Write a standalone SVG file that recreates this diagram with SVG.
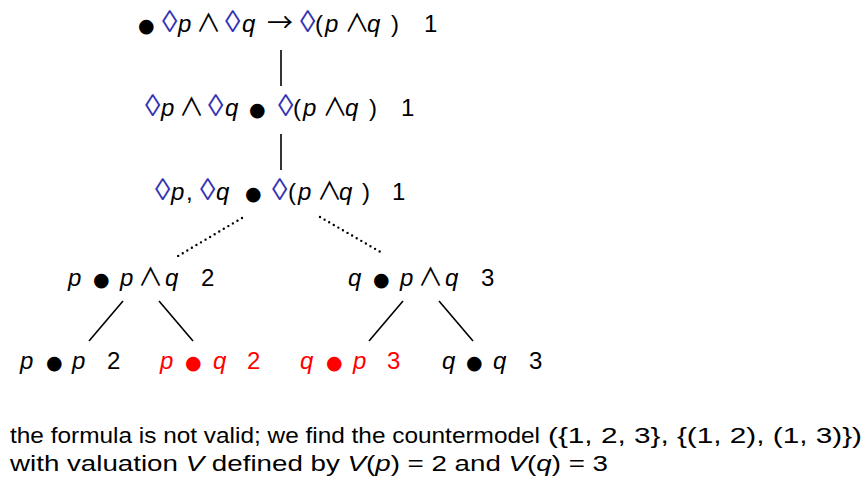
<svg xmlns="http://www.w3.org/2000/svg" width="868" height="491" viewBox="0 0 868 491">
<style>
.t{font-family:"Liberation Sans","DejaVu Sans",sans-serif;font-size:24px;fill:#000}
.i{font-style:italic}
.d{fill:#3333b3;font-size:31px}
.r{fill:#ff0000}
.b{font-family:"DejaVu Sans",sans-serif;font-size:19px}
.m{font-family:"Noto Sans CJK SC","DejaVu Sans",sans-serif;font-size:25px}
.a{font-family:"Noto Sans CJK SC","DejaVu Sans",sans-serif;font-size:26px}
.x{font-family:"Liberation Sans","DejaVu Sans",sans-serif;font-size:22px;fill:#000}
.ln{stroke:#000;stroke-width:1.6;fill:none}
.dot{stroke:#000;stroke-width:2.4;stroke-linecap:round;stroke-dasharray:0 5.3;fill:none}
</style>
<rect width="868" height="491" fill="#fff"/>
<g id="connectors">
<line class="ln" x1="281" y1="50" x2="281" y2="86"/>
<line class="ln" x1="281" y1="134" x2="281" y2="170"/>
<line class="dot" x1="242" y1="218" x2="178" y2="256"/>
<line class="dot" x1="320" y1="217" x2="384" y2="254"/>
<line class="ln" x1="123" y1="301" x2="89" y2="341"/>
<line class="ln" x1="159" y1="301" x2="193" y2="341"/>
<line class="ln" x1="403" y1="301" x2="369" y2="341"/>
<line class="ln" x1="439" y1="301" x2="473" y2="341"/>
</g>
<g id="n1"><text class="t" y="32"><tspan class="b" x="138">●</tspan><tspan class="d" x="162">◊</tspan><tspan class="i" x="178">p</tspan><tspan class="m" x="196">∧</tspan><tspan class="d" x="225">◊</tspan><tspan class="i" x="242">q</tspan><tspan class="a" x="267">→</tspan><tspan class="d" x="300">◊</tspan><tspan x="315">(</tspan><tspan class="i" x="325">p</tspan><tspan class="m" x="344.5">∧</tspan><tspan class="i" x="367">q</tspan><tspan x="391">)</tspan><tspan x="424">1</tspan></text></g>
<g id="n2"><text class="t" y="116"><tspan class="d" x="145">◊</tspan><tspan class="i" x="161">p</tspan><tspan class="m" x="179">∧</tspan><tspan class="d" x="208">◊</tspan><tspan class="i" x="225">q</tspan><tspan class="b" x="249">●</tspan><tspan class="d" x="278">◊</tspan><tspan x="293">(</tspan><tspan class="i" x="303">p</tspan><tspan class="m" x="322.5">∧</tspan><tspan class="i" x="345">q</tspan><tspan x="369">)</tspan><tspan x="401">1</tspan></text></g>
<g id="n3"><text class="t" y="200"><tspan class="d" x="155">◊</tspan><tspan class="i" x="171">p</tspan><tspan x="186">,</tspan><tspan class="d" x="200">◊</tspan><tspan class="i" x="216">q</tspan><tspan class="b" x="245">●</tspan><tspan class="d" x="272">◊</tspan><tspan x="288">(</tspan><tspan class="i" x="298">p</tspan><tspan class="m" x="317">∧</tspan><tspan class="i" x="339">q</tspan><tspan x="362">)</tspan><tspan x="392">1</tspan></text></g>
<g id="n4"><text class="t" y="286"><tspan class="i" x="68">p</tspan><tspan class="b" x="93">●</tspan><tspan class="i" x="120">p</tspan><tspan class="m" x="138">∧</tspan><tspan class="i" x="165">q</tspan><tspan x="201">2</tspan></text></g>
<g id="n5"><text class="t" y="286"><tspan class="i" x="348">q</tspan><tspan class="b" x="373">●</tspan><tspan class="i" x="400">p</tspan><tspan class="m" x="418">∧</tspan><tspan class="i" x="445">q</tspan><tspan x="481">3</tspan></text></g>
<g id="n6"><text class="t" y="369"><tspan class="i" x="20">p</tspan><tspan class="b" x="46">●</tspan><tspan class="i" x="72">p</tspan><tspan x="107">2</tspan></text></g>
<g id="n7"><text class="t r" y="369"><tspan class="i" x="160">p</tspan><tspan class="b" x="185">●</tspan><tspan class="i" x="213">q</tspan><tspan x="247">2</tspan></text></g>
<g id="n8"><text class="t r" y="369"><tspan class="i" x="300">q</tspan><tspan class="b" x="326">●</tspan><tspan class="i" x="353">p</tspan><tspan x="387">3</tspan></text></g>
<g id="n9"><text class="t" y="369"><tspan class="i" x="442">q</tspan><tspan class="b" x="466">●</tspan><tspan class="i" x="493">q</tspan><tspan x="529">3</tspan></text></g>
<g id="caption">
<text class="x" x="10" y="443" textLength="530" lengthAdjust="spacingAndGlyphs">the formula is not valid; we find the countermodel</text>
<text class="x" x="548" y="443" textLength="314" lengthAdjust="spacingAndGlyphs">({1, 2, 3}, {(1, 2), (1, 3)})</text>
<text class="x" x="10" y="471" textLength="598" lengthAdjust="spacingAndGlyphs">with valuation <tspan class="i">V</tspan> defined by <tspan class="i">V</tspan>(<tspan class="i">p</tspan>) = 2 and <tspan class="i">V</tspan>(<tspan class="i">q</tspan>) = 3</text>
</g>
</svg>
